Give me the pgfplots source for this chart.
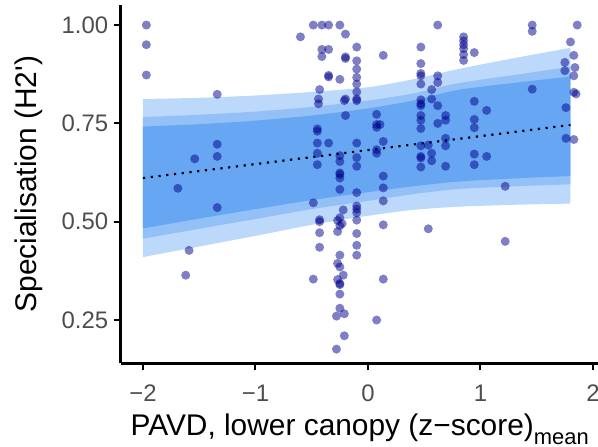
\documentclass[border=0pt]{standalone}
\usepackage{fontspec}
\setmainfont{Liberation Sans}
\usepackage{pgfplots}
\pgfplotsset{compat=1.18}
\usepgfplotslibrary{fillbetween}

\definecolor{bandlight}{RGB}{188,216,250}
\definecolor{bandmid}{RGB}{146,192,247}
\definecolor{bandinner}{RGB}{102,166,243}
\definecolor{pointcol}{RGB}{0,0,139}
\definecolor{tickgray}{RGB}{77,77,77}

% posterior bands: x, inner lo/hi, mid lo/hi, outer lo/hi
\pgfplotstableread{
x     ilo   ihi   mlo   mhi   llo   lhi
-2.0  0.483 0.742 0.457 0.766 0.410 0.812
-1.5  0.508 0.748 0.482 0.772 0.437 0.815
-1.0  0.532 0.757 0.507 0.780 0.464 0.821
-0.5  0.555 0.770 0.532 0.792 0.492 0.830
0.0   0.575 0.788 0.553 0.808 0.515 0.842
0.4   0.590 0.808 0.570 0.826 0.530 0.862
0.8   0.602 0.835 0.583 0.852 0.538 0.888
1.3   0.610 0.853 0.590 0.873 0.543 0.916
1.8   0.616 0.869 0.595 0.894 0.546 0.942
}\bands

\pgfplotstableread{
x y
-1.97 1.00
-1.97 0.95
-1.97 0.873
-1.34 0.824
-1.34 0.697
-1.34 0.666
-1.34 0.536
-1.54 0.66
-1.69 0.585
-1.59 0.427
-1.62 0.364
-0.60 0.97
-0.486 1.00
-0.486 0.548
-0.486 0.354
-0.41 1.00
-0.41 0.938
-0.41 0.92
-0.35 1.00
-0.35 0.938
-0.35 0.872
-0.35 0.868
-0.35 0.70
-0.25 1.00
-0.25 0.862
-0.25 0.668
-0.25 0.653
-0.25 0.624
-0.25 0.62
-0.25 0.611
-0.25 0.582
-0.25 0.415
-0.20 0.977
-0.20 0.919
-0.20 0.915
-0.20 0.812
-0.21 0.808
-0.20 0.77
-0.10 0.944
-0.10 0.909
-0.10 0.888
-0.10 0.867
-0.10 0.85
-0.10 0.83
-0.10 0.812
-0.10 0.808
-0.10 0.70
-0.10 0.663
-0.10 0.641
-0.10 0.574
-0.10 0.54
-0.10 0.532
-0.10 0.523
-0.10 0.504
-0.10 0.47
-0.10 0.44
-0.10 0.415
-0.43 0.836
-0.44 0.812
-0.44 0.80
-0.45 0.736
-0.45 0.730
-0.45 0.70
-0.45 0.674
-0.45 0.645
-0.43 0.505
-0.43 0.500
-0.43 0.472
-0.43 0.435
-0.27 0.503
-0.25 0.51
-0.25 0.49
-0.27 0.475
-0.22 0.53
-0.23 0.495
-0.27 0.394
-0.25 0.385
-0.22 0.364
-0.27 0.353
-0.25 0.343
-0.25 0.340
-0.25 0.316
-0.25 0.28
-0.28 0.26
-0.21 0.266
-0.21 0.21
-0.28 0.176
0.077 0.773
0.077 0.747
0.077 0.74
0.077 0.683
0.077 0.674
0.077 0.25
0.107 0.747
0.136 0.923
0.136 0.704
0.136 0.616
0.136 0.586
0.136 0.553
0.136 0.492
0.136 0.354
0.47 0.944
0.47 0.902
0.47 0.877
0.47 0.871
0.47 0.85
0.47 0.81
0.47 0.80
0.47 0.795
0.47 0.77
0.47 0.758
0.47 0.737
0.47 0.693
0.47 0.666
0.47 0.662
0.47 0.639
0.536 0.695
0.536 0.482
0.566 0.836
0.566 0.812
0.566 0.674
0.566 0.655
0.62 1.00
0.62 0.871
0.62 0.854
0.62 0.795
0.62 0.75
0.69 0.77
0.69 0.758
0.69 0.712
0.69 0.693
0.69 0.641
0.85 0.97
0.85 0.96
0.85 0.95
0.85 0.94
0.85 0.925
0.85 0.91
0.945 0.93
0.945 0.806
0.945 0.76
0.945 0.739
0.945 0.672
0.945 0.645
1.055 0.783
1.055 0.666
1.22 0.59
1.22 0.45
1.46 1.00
1.46 0.984
1.46 0.837
1.86 1.00
1.80 0.957
1.83 0.923
1.75 0.905
1.84 0.892
1.75 0.884
1.83 0.871
1.83 0.829
1.85 0.825
1.76 0.79
1.76 0.712
1.83 0.709
}\points

\begin{document}
\begin{tikzpicture}
\begin{axis}[
    at={(0,0)}, anchor=south west,
    scale only axis,
    width=477.9bp, height=358.3bp,
    xmin=-2.198, xmax=2.05,
    ymin=0.14, ymax=1.051,
    axis x line*=bottom, axis y line*=left,
    axis line style={line width=2.4bp, -},
    tick align=outside,
    major tick length=7bp,
    tick style={line width=2bp, black},
    xtick={-2,-1,0,1,2},
    xticklabels={−2,−1,0,1,2},
    ytick={0.25,0.5,0.75,1},
    yticklabels={0.25,0.50,0.75,1.00},
    ticklabel style={font=\fontsize{24}{24}\selectfont, text=tickgray, inner sep=0pt},
    xticklabel style={anchor=north},
    yticklabel style={anchor=east},
    xticklabel shift=14.5bp,
    yticklabel shift=5.4bp,
    xlabel={PAVD, lower canopy (z−score)\raisebox{-0.3em}{\fontsize{22}{22}\selectfont mean}},
    ylabel={Specialisation (H2\textquotesingle)},
    label style={font=\fontsize{30}{30}\selectfont, inner sep=0pt},
    xlabel style={at={(axis description cs:0.5,0)}, anchor=base, yshift=-72bp},
    ylabel style={at={(axis description cs:-0.176,0.5)}, anchor=base, rotate=0},
]
\addplot[draw=none, smooth, name path=lhi] table[x=x, y=lhi] {\bands};
\addplot[draw=none, smooth, name path=llo] table[x=x, y=llo] {\bands};
\addplot[bandlight] fill between[of=lhi and llo];
\addplot[draw=none, smooth, name path=mhi] table[x=x, y=mhi] {\bands};
\addplot[draw=none, smooth, name path=mlo] table[x=x, y=mlo] {\bands};
\addplot[bandmid] fill between[of=mhi and mlo];
\addplot[draw=none, smooth, name path=ihi] table[x=x, y=ihi] {\bands};
\addplot[draw=none, smooth, name path=ilo] table[x=x, y=ilo] {\bands};
\addplot[bandinner] fill between[of=ihi and ilo];
\addplot[black, line width=2.2bp, dash pattern=on 2.2bp off 5.6bp]
    coordinates {(-2.0,0.611) (1.8,0.746)};
\addplot[only marks, mark=*, mark size=4.5bp, color=pointcol,
    mark options={line width=0pt, draw opacity=0, fill=pointcol, fill opacity=0.5}]
    table[x=x, y=y] {\points};
\end{axis}
\pgfresetboundingbox
\path (-120.7bp,-83.7bp) rectangle (477.3bp,363.3bp);
\end{tikzpicture}
\end{document}
